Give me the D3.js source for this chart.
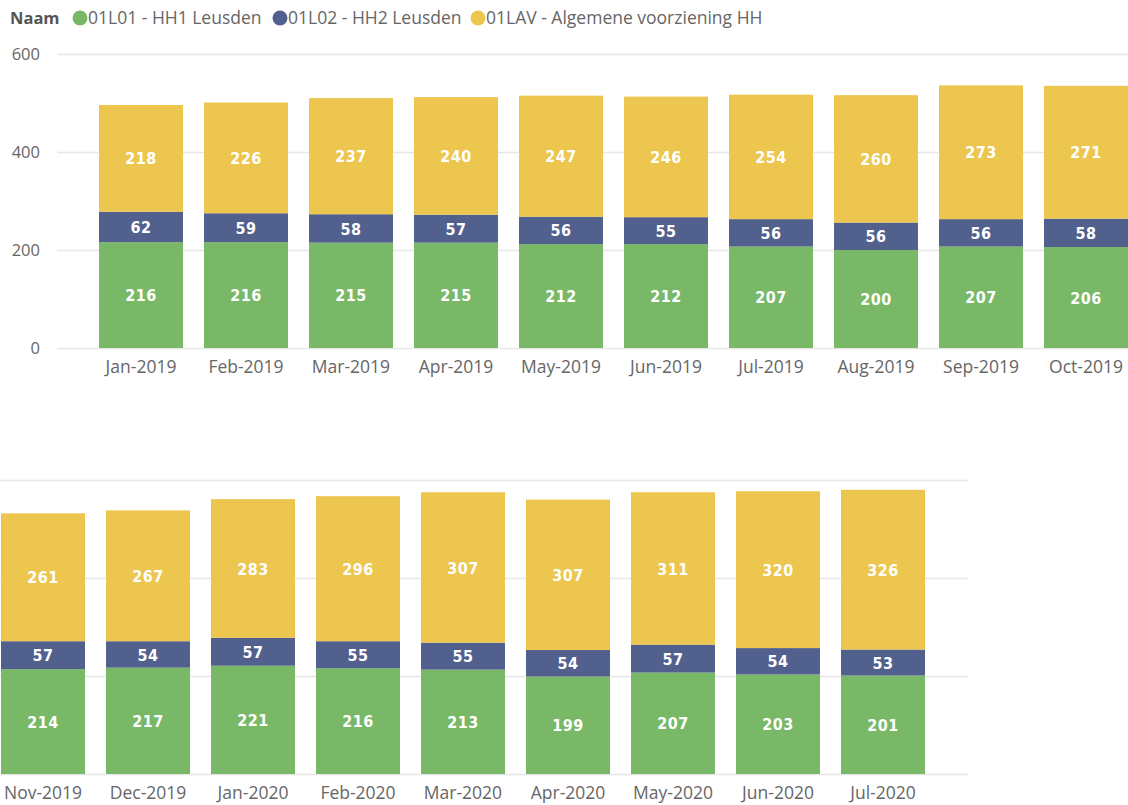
<!DOCTYPE html>
<html lang="nl">
  <head>
    <meta charset="utf-8">
    <title>Naam per maand</title>
    <script src="https://d3js.org/d3.v7.min.js"></script>
    <style>
      body { margin: 0; background: #fff; font-family: 'Open Sans', sans-serif; }
      .tick text { fill: #666; }
      .lbl { fill: #fff; font-family: 'DejaVu Sans Condensed', 'DejaVu Sans', sans-serif; font-weight: bold; letter-spacing: 0.5px; }
    </style>
  </head>
  <body>
    <div id="chart"></div>
    <script>
      // data
      var months = ["Jan-2019","Feb-2019","Mar-2019","Apr-2019","May-2019","Jun-2019","Jul-2019","Aug-2019","Sep-2019","Oct-2019",
                    "Nov-2019","Dec-2019","Jan-2020","Feb-2020","Mar-2020","Apr-2020","May-2020","Jun-2020","Jul-2020"];
      var hh1 = [216,216,215,215,212,212,207,200,207,206, 214,217,221,216,213,199,207,203,201];
      var hh2 = [62,59,58,57,56,55,56,56,56,58, 57,54,57,55,55,54,57,54,53];
      var lav = [218,226,237,240,247,246,254,260,273,271, 261,267,283,296,307,307,311,320,326];
      var seriesNames = ["01L01 - HH1 Leusden", "01L02 - HH2 Leusden", "01LAV - Algemene voorziening HH"];
      var seriesColors = ["#79b866", "#52608e", "#ecc64e"];
      var yTicks = [0, 200, 400, 600];

      var W = 1128, H = 805;
      var svg = d3.select("#chart").append("svg").attr("width", W).attr("height", H);

      // legend
      var leg = svg.append("g").attr("font-size", 17.5);
      leg.append("text").attr("x", 10).attr("y", 24).attr("fill", "#555").attr("font-weight", "bold").attr("font-size", 16.5).text("Naam");
      var legX = [80, 280, 478];
      seriesNames.forEach(function(n, i) {
        leg.append("circle").attr("cx", legX[i]).attr("cy", 18).attr("r", 7.5).attr("fill", seriesColors[i]);
        leg.append("text").attr("x", legX[i] + 8).attr("y", 24).attr("fill", "#666").text(n);
      });

      var rows = months.map(function(m, i) { return {month: m, hh1: hh1[i], hh2: hh2[i], lav: lav[i]}; });
      var stack = d3.stack().keys(["hh1", "hh2", "lav"]);

      function panel(data, opts) {
        var x = d3.scaleBand().domain(data.map(function(d){ return d.month; }))
          .range(opts.xr).paddingInner(0.2).paddingOuter(0.1);
        var y = d3.scaleLinear().domain([0, 600]).range([opts.y0, opts.y0 - 294]);

        var grid = svg.append("g").attr("transform", "translate(" + opts.gx[0] + ",0)")
          .call(d3.axisLeft(y).tickValues(yTicks).tickSize(-(opts.gx[1] - opts.gx[0])).tickPadding(17));
        grid.select(".domain").remove();
        grid.selectAll(".tick line").attr("stroke", "#e6e6e6").attr("stroke-width", 1.5);
        grid.selectAll(".tick text").attr("font-size", 16.5).attr("font-family", "Open Sans").attr("fill", "#777");
        if (!opts.showY) grid.selectAll(".tick text").remove();

        var layers = stack(data);
        var g = svg.append("g");
        layers.forEach(function(layer, i) {
          g.selectAll(null).data(layer).enter().append("rect")
            .attr("x", function(d){ return x(d.data.month); })
            .attr("width", x.bandwidth())
            .attr("y", function(d){ return y(d[1]); })
            .attr("height", function(d){ return y(d[0]) - y(d[1]); })
            .attr("fill", seriesColors[i]);
          g.selectAll(null).data(layer).enter().append("text")
            .attr("class", "lbl")
            .attr("x", function(d){ return x(d.data.month) + x.bandwidth() / 2; })
            .attr("y", function(d){ return (y(d[0]) + y(d[1])) / 2; })
            .attr("dy", "0.38em")
            .attr("text-anchor", "middle")
            .attr("font-size", 16)
            .text(function(d){ return d[1] - d[0]; });
        });

        var xa = svg.append("g").attr("transform", "translate(0," + opts.y0 + ")")
          .call(d3.axisBottom(x).tickSize(0).tickPadding(13));
        xa.select(".domain").remove();
        xa.selectAll(".tick text").attr("font-size", 17.5).attr("font-family", "Open Sans").attr("fill", "#666");
      }

      panel(rows.slice(0, 10), {xr: [88.5, 1138.5], y0: 348, gx: [57, 1128], showY: true});
      panel(rows.slice(10), {xr: [-9.5, 935.5], y0: 774, gx: [0, 968], showY: false});
    </script>
  </body>
</html>
